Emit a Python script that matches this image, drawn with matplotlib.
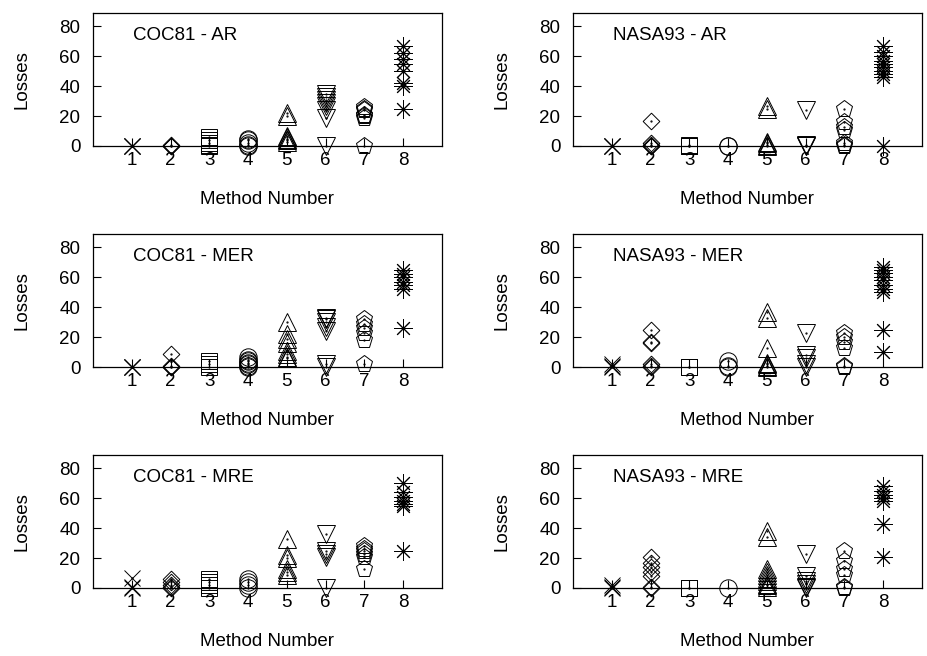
import matplotlib
matplotlib.use("Agg")
import matplotlib.pyplot as plt

plt.rcParams['font.family'] = ['Liberation Sans', 'DejaVu Sans']
plt.rcParams['font.size'] = 13.5

# method numbers on the x axis and one marker per method (gnuplot-like)
methods = [1, 2, 3, 4, 5, 6, 7, 8]
y_ticks = [0, 20, 40, 60, 80]
marker_styles = ['x', (4, 0, 0), 's', 'o', '^', 'v', 'p', (8, 2, 0)]
marker_sizes = [11.5, 12, 12, 12.5, 13, 13, 12.5, 13]

# losses per method (one list per method)
coc81_ar = [
    [0, 0, 0],
    [0, 0, 1],
    [0, 1, 2, 4, 6],
    [0, 1, 2, 4, 5],
    [22, 20, 7, 6, 5, 4, 3],
    [35, 33, 31, 29, 27, 24, 19, 0],
    [26, 25, 24, 21, 20, 19, 0],
    [67, 62, 58, 55, 50, 42, 40, 25],
]
nasa93_ar = [
    [0, 0, 0],
    [17, 2, 1, 0, 0],
    [0, 0, 1],
    [0, 0],
    [27, 25, 3, 2, 1, 0],
    [24, 1, 0, 0],
    [25, 16, 13, 11, 2, 1, 0],
    [67, 63, 60, 57, 55, 53, 50, 48, 46, 0],
]
coc81_mer = [
    [0, 0, 0],
    [9, 1, 0, 0],
    [4, 2, 0],
    [7, 5, 4, 3, 2, 1, 0],
    [30, 22, 19, 16, 11, 9, 7, 6],
    [33, 32, 30, 27, 24, 2, 0],
    [32, 29, 26, 23, 18, 2],
    [65, 62, 60, 57, 55, 52, 26],
]
nasa93_mer = [
    [2, 1, 0],
    [25, 17, 16, 2, 1, 0],
    [0, 0],
    [4, 1, 0],
    [37, 33, 13, 3, 2, 1, 0],
    [23, 8, 6, 2, 0],
    [23, 20, 17, 13, 1, 0],
    [67, 65, 63, 60, 58, 55, 52, 50, 25, 10],
]
coc81_mre = [
    [7, 1, 0],
    [6, 4, 2, 1, 0],
    [6, 4, 2, 0],
    [6, 4, 2, 0],
    [33, 22, 20, 13, 11, 9],
    [36, 25, 23, 21, 0],
    [28, 26, 25, 23, 21, 13],
    [70, 64, 61, 58, 56, 55, 25],
]
nasa93_mre = [
    [2, 1, 0],
    [21, 17, 14, 11, 8, 1, 0],
    [0, 0],
    [0],
    [38, 34, 13, 11, 9, 7, 5, 3, 2, 1],
    [23, 8, 5, 3, 1, 0],
    [25, 18, 13, 9, 1, 0],
    [68, 65, 62, 60, 58, 43, 21],
]

panels = [
    ("COC81 - AR", coc81_ar), ("NASA93 - AR", nasa93_ar),
    ("COC81 - MER", coc81_mer), ("NASA93 - MER", nasa93_mer),
    ("COC81 - MRE", coc81_mre), ("NASA93 - MRE", nasa93_mre),
]

fig = plt.figure(figsize=(9.27, 6.56), dpi=100)

col_left = [93 / 927, 573 / 927]
row_bottom = [1 - 146 / 656, 1 - 367 / 656, 1 - 588 / 656]
w, h = 349 / 927, 133 / 656

for i, (title, data) in enumerate(panels):
    ax = fig.add_axes([col_left[i % 2], row_bottom[i // 2], w, h])
    for m, vals, mk, ms in zip(methods, data, marker_styles, marker_sizes):
        xs = [m] * len(vals)
        ax.plot(xs, vals, linestyle='none', marker=mk, markersize=ms,
                markerfacecolor='none', markeredgecolor='black',
                markeredgewidth=0.7, clip_on=False, zorder=3)
        # gnuplot puts a tiny dot at the centre of each point
        ax.plot(xs, vals, linestyle='none', marker='.', markersize=1.2,
                color='black', clip_on=False, zorder=3)
    ax.set_xlim(0, 9)
    ax.set_ylim(0, 89)
    ax.set_xticks(methods)
    ax.set_yticks(y_ticks)
    ax.tick_params(direction='in', length=6, width=0.8, top=False, right=False)
    ax.tick_params(axis='x', pad=4)
    ax.tick_params(axis='y', pad=9)
    for sp in ax.spines.values():
        sp.set_linewidth(0.9)
    ax.set_xlabel("Method Number", labelpad=16)
    ax.set_ylabel("Losses", labelpad=21)
    ax.text(0.115, 0.83, title, transform=ax.transAxes, ha='left', va='center')

fig.savefig("out.png", dpi=100)
